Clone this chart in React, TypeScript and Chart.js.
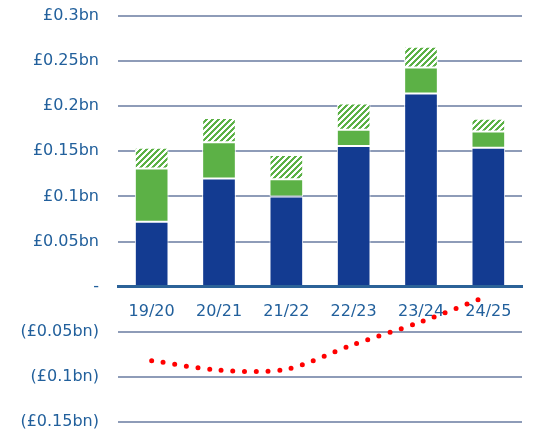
import React, { useEffect, useRef } from 'react';
import { Chart, registerables } from 'chart.js';

Chart.register(...registerables);

const categories = ['19/20', '20/21', '21/22', '22/23', '23/24', '24/25'];
const baseValues = [0.072, 0.12, 0.1, 0.156, 0.214, 0.154];
const greenValues = [0.059, 0.04, 0.019, 0.018, 0.029, 0.018];
const hatchValues = [0.023, 0.027, 0.027, 0.029, 0.023, 0.014];
const lineValues = [-0.082, -0.0925, -0.0915, -0.064, -0.039, -0.01];

const yMin = -0.15;
const yMax = 0.3;
const yStep = 0.05;

const BLUE = '#133b91';
const GREEN = '#5cb146';
const TEXT = '#22609c';
const GRID = '#8e9cb8';
const AXIS = '#2b6298';

function makeHatch(): CanvasPattern | string {
  const c = document.createElement('canvas');
  const n = 6;
  c.width = n;
  c.height = n;
  const ctx = c.getContext('2d');
  if (!ctx) return GREEN;
  const img = ctx.createImageData(n, n);
  for (let y = 0; y < n; y++) {
    for (let x = 0; x < n; x++) {
      const i = (y * n + x) * 4;
      const g = (x + y) % n < 3;
      img.data[i] = g ? 0x5c : 255;
      img.data[i + 1] = g ? 0xb1 : 255;
      img.data[i + 2] = g ? 0x46 : 255;
      img.data[i + 3] = 255;
    }
  }
  ctx.putImageData(img, 0, 0);
  const p = ctx.createPattern(c, 'repeat');
  return p || GREEN;
}

function fmt(v: number): string {
  const r = Math.round(v * 100) / 100;
  if (r === 0) return '-';
  const s = '£' + String(Math.abs(r)) + 'bn';
  return r < 0 ? '(' + s + ')' : s;
}

export default function App() {
  const ref = useRef<HTMLCanvasElement | null>(null);
  useEffect(() => {
    document.body.style.margin = '0';
    const canvas = ref.current;
    if (!canvas) return;
    const hatch = makeHatch();
    const font = { family: '"DejaVu Sans", sans-serif', size: 16 };
    const chart = new Chart(canvas, {
      type: 'bar',
      data: {
        labels: categories,
        datasets: [
          {
            type: 'line',
            data: lineValues,
            stack: 'line',
            borderColor: '#ff0000',
            borderWidth: 5,
            borderDash: [0, 11.7],
            borderCapStyle: 'round',
            tension: 0.3,
            pointRadius: 0,
            fill: false,
            order: 0,
          } as any,
          {
            data: baseValues,
            stack: 'bars',
            backgroundColor: BLUE,
            borderColor: '#ffffff',
            borderWidth: 1,
            borderSkipped: 'start',
            order: 1,
          },
          {
            data: greenValues,
            stack: 'bars',
            backgroundColor: GREEN,
            borderColor: '#ffffff',
            borderWidth: 1,
            borderSkipped: false,
            order: 1,
          },
          {
            data: hatchValues,
            stack: 'bars',
            backgroundColor: hatch as any,
            borderColor: '#ffffff',
            borderWidth: 1,
            borderSkipped: false,
            order: 1,
          },
        ],
      },
      options: {
        responsive: false,
        animation: false,
        layout: { padding: { top: 16, right: 16, bottom: 10, left: 0 } },
        plugins: { legend: { display: false }, tooltip: { enabled: false } },
        datasets: { bar: { categoryPercentage: 1, barPercentage: 0.5 } },
        scales: {
          x: {
            stacked: true,
            position: { y: 0 } as any,
            grid: { display: false, drawTicks: false },
            border: { display: true, color: AXIS, width: 3, z: 1 } as any,
            ticks: { color: TEXT, font, padding: 16, maxRotation: 0 },
            afterFit: (s: any) => {
              s.paddingLeft = 0;
              s.paddingRight = 0;
              s.paddingTop = 0;
              s.paddingBottom = 0;
            },
          },
          y: {
            stacked: true,
            min: yMin,
            max: yMax,
            afterFit: (s: any) => {
              s.width = 118;
              s.paddingTop = 0;
              s.paddingBottom = 0;
            },
            grid: { color: GRID, lineWidth: 2, drawTicks: false },
            border: { display: false },
            ticks: {
              stepSize: yStep,
              color: TEXT,
              font,
              padding: 19,
              callback: (v: any) => fmt(Number(v)),
            },
          },
        },
      },
    });
    return () => chart.destroy();
  }, []);
  return (
    <div style={{ width: 538, height: 432 }}>
      <canvas ref={ref} width={538} height={432} style={{ display: 'block' }} />
    </div>
  );
}
